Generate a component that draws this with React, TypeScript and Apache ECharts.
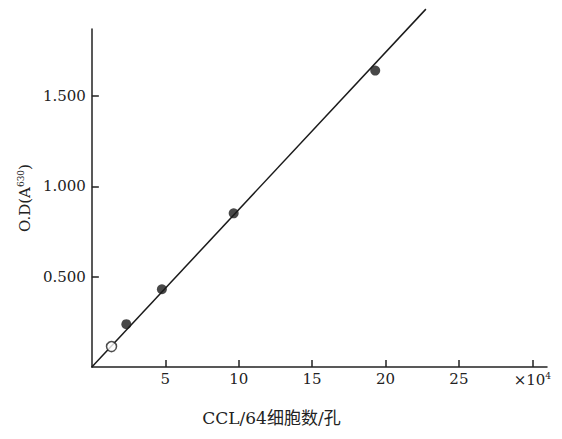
import React, { useEffect, useRef } from "react";
import * as echarts from "echarts";

const cellCounts = [1.34, 2.35, 4.77, 9.66, 19.3]; // ×10^4
const odValues = [0.113, 0.237, 0.43, 0.85, 1.64];
const openPoint = [0]; // index of hollow marker
const fitLine = [
  [0, 0],
  [22.75, 1.98],
];
const xTicks = [5, 10, 15, 20, 25, 30];
const yTicks = [0.5, 1.0, 1.5];

const SERIF = "'DejaVu Serif', 'Liberation Serif', 'Noto Sans CJK SC', serif";

export default function App() {
  const ref = useRef<HTMLDivElement>(null);
  useEffect(() => {
    if (!ref.current) return;
    const chart = echarts.init(ref.current, null, { renderer: "svg" });
    const pts = cellCounts.map((x, i) => ({
      value: [x, odValues[i]],
      symbol: "circle",
      itemStyle: openPoint.includes(i)
        ? { color: "#ffffff", borderColor: "#222", borderWidth: 1.5 }
        : { color: "#1a1a1a" },
    }));
    chart.setOption({
      animation: false,
      backgroundColor: "#fff",
      grid: { left: 83, right: 1, top: 21, bottom: 55, containLabel: false },
      xAxis: {
        type: "value",
        min: 0,
        max: 31,
        name: "CCL/64细胞数/孔",
        nameLocation: "middle",
        nameGap: 42,
        nameTextStyle: {
          fontFamily: SERIF,
          fontSize: 17,
          color: "#222",
          padding: [0, 96, 0, 0],
        },
        axisLine: { show: true, lineStyle: { color: "#222", width: 1.5 } },
        axisTick: {
          show: true,
          inside: true,
          length: 7,
          customValues: xTicks,
          lineStyle: { color: "#222", width: 1.5 },
        },
        axisLabel: {
          customValues: xTicks,
          fontFamily: SERIF,
          fontSize: 15,
          color: "#222",
          margin: 4,
          formatter: (v: number) => (v === 30 ? "×10{s|4}" : String(v)),
          rich: {
            s: { fontSize: 9, verticalAlign: "top", fontFamily: SERIF, color: "#222", padding: [0, 0, 8, 0] },
          },
        },
        splitLine: { show: false },
      },
      yAxis: {
        type: "value",
        min: 0,
        max: 1.87,
        name: "O.D(A{s|630})",
        nameLocation: "middle",
        nameRotate: 90,
        nameGap: 58,
        nameTextStyle: {
          fontFamily: SERIF,
          fontSize: 15,
          color: "#222",
          rich: {
            s: { fontSize: 9, fontFamily: SERIF, color: "#222", padding: [0, 0, 8, 0] },
          },
        },
        axisLine: { show: true, lineStyle: { color: "#222", width: 1.5 } },
        axisTick: {
          show: true,
          inside: true,
          length: 7,
          customValues: yTicks,
          lineStyle: { color: "#222", width: 1.5 },
        },
        axisLabel: {
          customValues: yTicks,
          fontFamily: SERIF,
          fontSize: 15,
          color: "#222",
          margin: 6,
          formatter: (v: number) => v.toFixed(3),
        },
        splitLine: { show: false },
      },
      series: [
        {
          type: "line",
          data: fitLine,
          clip: false,
          symbol: "none",
          lineStyle: { color: "#1a1a1a", width: 1.5 },
          z: 2,
        },
        {
          type: "scatter",
          data: pts,
          symbolSize: 10,
          z: 3,
        },
      ],
    });
    return () => chart.dispose();
  }, []);
  return <div ref={ref} style={{ width: 546, height: 423 }} />;
}
